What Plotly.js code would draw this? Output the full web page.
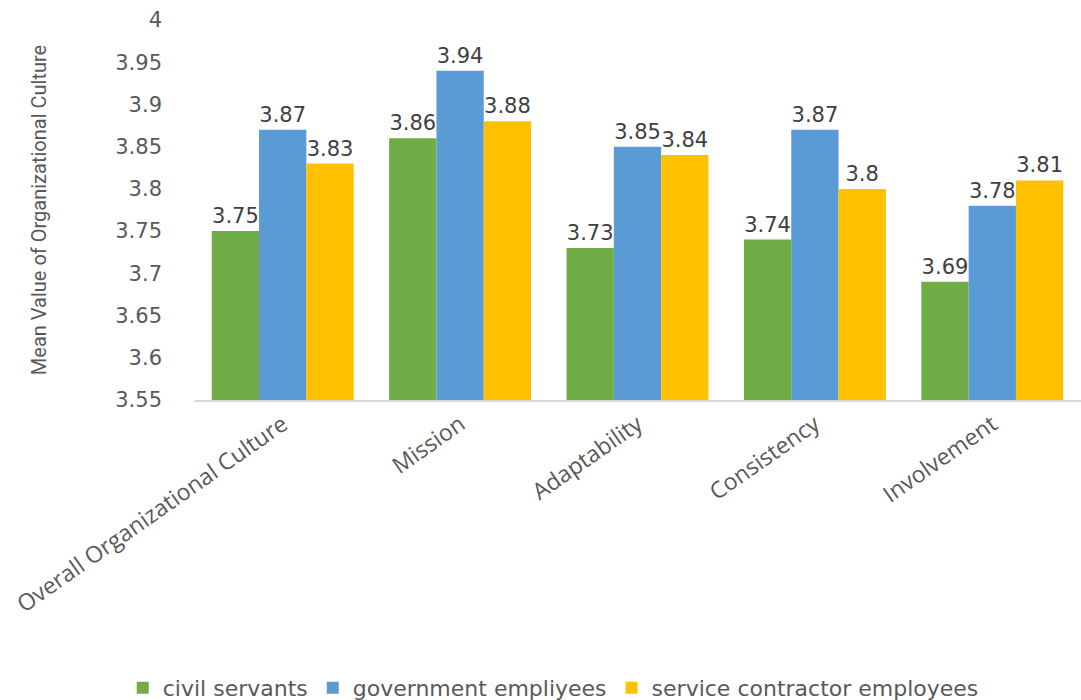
<!DOCTYPE html>
<html>
<head>
<meta charset="utf-8">
<script src="https://cdn.plot.ly/plotly-3.0.1.min.js"></script>
<style>html,body{margin:0;padding:0;background:#fff;}#chart{width:1081px;height:700px;}</style>
</head>
<body>
<div id="chart"></div>
<script>
const categories = ["Overall Organizational Culture", "Mission", "Adaptability", "Consistency", "Involvement"];
const civilServants = [3.75, 3.86, 3.73, 3.74, 3.69];
const governmentEmployees = [3.87, 3.94, 3.85, 3.87, 3.78];
const serviceContractors = [3.83, 3.88, 3.84, 3.80, 3.81];
const seriesNames = ["civil servants", "government empliyees", "service contractor employees"];
const yTicks = [3.55, 3.6, 3.65, 3.7, 3.75, 3.8, 3.85, 3.9, 3.95, 4];

const colors = ["#70AD47", "#5B9BD5", "#FFC000"];
const seriesVals = [civilServants, governmentEmployees, serviceContractors];

const traces = seriesVals.map((vals, i) => ({
  type: "bar",
  name: seriesNames[i],
  x: categories,
  y: vals,
  text: vals.map(v => String(v)),
  textposition: "outside",
  cliponaxis: false,
  textfont: {family: "DejaVu Sans", size: 21, color: "#404040"},
  marker: {color: colors[i]},
  hoverinfo: "skip"
}));

const layout = {
  width: 1081,
  height: 700,
  margin: {l: 194, r: 0, t: 20, b: 300, autoexpand: false},
  paper_bgcolor: "#fff",
  plot_bgcolor: "#fff",
  barmode: "group",
  bargap: 0.2,
  bargroupgap: 0,
  font: {family: "DejaVu Sans", color: "#595959"},
  yaxis: {
    range: [3.55, 4],
    tickvals: yTicks,
    ticktext: yTicks.map(v => String(v)),
    showgrid: false,
    zeroline: false,
    showline: false,
    ticks: "",
    ticklabelstandoff: 31,
    tickfont: {family: "DejaVu Sans", size: 21, color: "#595959"},
    title: {text: "Mean Value of Organizational Culture", font: {family: "Liberation Sans Narrow, Roboto, sans-serif", size: 20, color: "#595959"}, standoff: 63}
  },
  xaxis: {
    showgrid: false,
    showline: true,
    linecolor: "#D9D9D9",
    linewidth: 2,
    ticks: "",
    tickangle: -35,
    tickfont: {family: "Open Sans", size: 23, color: "#595959"}
  },
  legend: {
    orientation: "h",
    x: 0.405,
    xanchor: "center",
    y: -0.758,
    yanchor: "middle",
    font: {family: "DejaVu Sans", size: 22, color: "#595959"},
    itemwidth: 30,
    traceorder: "normal"
  },
  showlegend: true
};

Plotly.newPlot("chart", traces, layout, {displayModeBar: false, staticPlot: true});
</script>
</body>
</html>
